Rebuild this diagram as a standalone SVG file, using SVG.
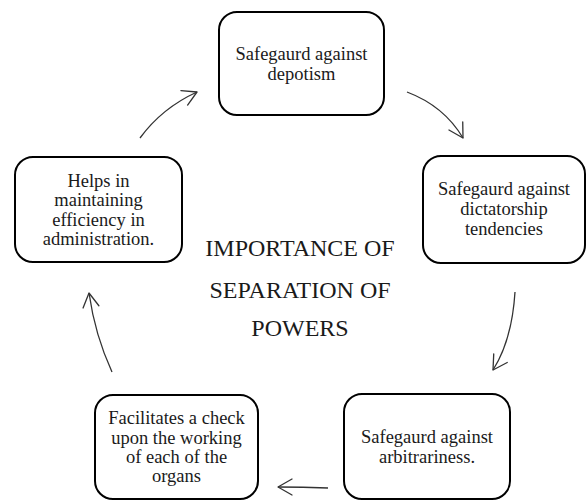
<svg xmlns="http://www.w3.org/2000/svg" width="587" height="500" viewBox="0 0 587 500">
  <defs>
    <style>
      .box { fill: #ffffff; stroke: #000000; stroke-width: 2; }
      .lbl { font-family: "Liberation Serif", "Times New Roman", serif; font-size: 18.5px; fill: #1a1a1a; text-anchor: middle; }
      .title { font-family: "Liberation Serif", "Times New Roman", serif; font-size: 24px; fill: #1a1a1a; text-anchor: middle; }
      .conn { fill: none; stroke: #333333; stroke-width: 1.3; marker-end: url(#arrow); }
    </style>
    <marker id="arrow" markerUnits="userSpaceOnUse" markerWidth="16" markerHeight="18" refX="14" refY="8" orient="auto" overflow="visible">
      <path d="M0,0 L14,8 L0,16" fill="none" stroke="#333333" stroke-width="1.3" stroke-linejoin="round" stroke-linecap="round"/>
    </marker>
  </defs>
  <rect width="587" height="500" fill="#ffffff"/>

  <g id="connectors">
    <path class="conn" d="M140,138 Q162,108 197,92"/>
    <path class="conn" d="M407,92 Q444,106 463,138"/>
    <path class="conn" d="M515,292 Q512,340 493,370"/>
    <path class="conn" d="M328,488 Q303,487 278,487"/>
    <path class="conn" d="M112,372 Q95,335 89,293"/>
  </g>

  <g id="node-depotism">
    <rect class="box" x="219" y="12" width="165" height="103" rx="18" ry="18"/>
    <text class="lbl" x="301.5" y="60">Safegaurd against</text>
    <text class="lbl" x="301.5" y="80">depotism</text>
  </g>

  <g id="node-dictatorship">
    <rect class="box" x="423" y="156" width="162" height="107" rx="18" ry="18"/>
    <text class="lbl" x="504" y="195">Safegaurd against</text>
    <text class="lbl" x="504" y="215">dictatorship</text>
    <text class="lbl" x="504" y="235">tendencies</text>
  </g>

  <g id="node-arbitrariness">
    <rect class="box" x="344" y="394" width="166" height="105" rx="18" ry="18"/>
    <text class="lbl" x="427" y="443">Safegaurd against</text>
    <text class="lbl" x="427" y="463">arbitrariness.</text>
  </g>

  <g id="node-check">
    <rect class="box" x="95" y="395" width="163" height="104" rx="18" ry="18"/>
    <text class="lbl" x="176.5" y="424">Facilitates a check</text>
    <text class="lbl" x="176.5" y="444">upon the working</text>
    <text class="lbl" x="176.5" y="463">of each of the</text>
    <text class="lbl" x="176.5" y="482">organs</text>
  </g>

  <g id="node-efficiency">
    <rect class="box" x="15" y="157" width="167" height="105" rx="18" ry="18"/>
    <text class="lbl" x="98.5" y="187">Helps in</text>
    <text class="lbl" x="98.5" y="206">maintaining</text>
    <text class="lbl" x="98.5" y="226">efficiency in</text>
    <text class="lbl" x="98.5" y="245">administration.</text>
  </g>

  <g id="center-title">
    <text class="title" x="300" y="256">IMPORTANCE OF</text>
    <text class="title" x="300" y="298">SEPARATION OF</text>
    <text class="title" x="300" y="336">POWERS</text>
  </g>
</svg>
